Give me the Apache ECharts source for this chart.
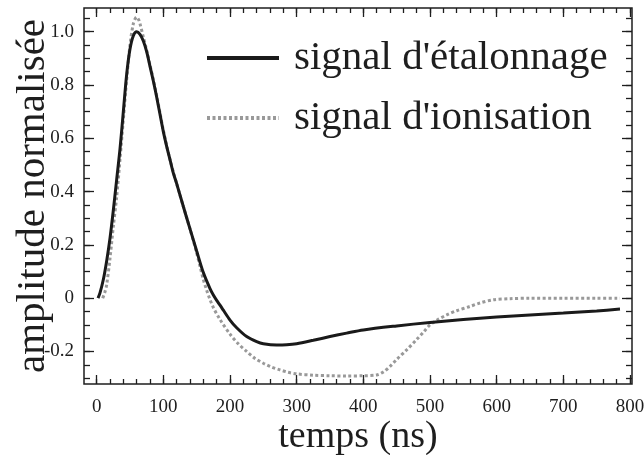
<!DOCTYPE html>
<html>
<head>
<meta charset="utf-8">
<script src="https://cdn.jsdelivr.net/npm/echarts@6/dist/echarts.min.js"></script>
<style>html,body{margin:0;padding:0;background:#fff;}#c{width:644px;height:455px;}</style>
</head>
<body>
<div id="c"></div>
<script>
// signal d'étalonnage (ns, amplitude)
const calibTime = [2, 5, 10, 15, 20, 25, 30, 35, 40, 45, 50, 55, 60, 65, 70, 75, 80, 85, 90, 95, 100, 105, 110, 115, 120, 130, 140, 145, 150, 160, 170, 175, 180, 185, 190, 200, 210, 225, 240, 250, 270, 285, 300, 325, 350, 375, 400, 450, 500, 550, 600, 650, 700, 750, 785];
const calibAmp  = [0, 0.02, 0.07, 0.14, 0.225, 0.33, 0.445, 0.56, 0.7, 0.84, 0.935, 0.985, 1.0, 0.99, 0.965, 0.925, 0.87, 0.815, 0.755, 0.69, 0.625, 0.57, 0.52, 0.469, 0.43, 0.344, 0.26, 0.219, 0.177, 0.096, 0.036, 0.012, -0.008, -0.026, -0.045, -0.082, -0.111, -0.144, -0.163, -0.171, -0.176, -0.175, -0.171, -0.158, -0.144, -0.131, -0.119, -0.104, -0.091, -0.08, -0.071, -0.063, -0.056, -0.048, -0.041];
// signal d'ionisation
const ionTime = [9, 12, 15, 20, 25, 30, 35, 40, 45, 50, 55, 60, 63, 65, 70, 75, 80, 85, 90, 95, 100, 110, 120, 130, 140, 150, 155, 160, 165, 170, 175, 185, 200, 212, 225, 237, 250, 262, 275, 287, 300, 325, 350, 375, 400, 420, 430, 440, 450, 465, 480, 490, 500, 512, 525, 540, 560, 575, 595, 620, 650, 700, 750, 785];
const ionAmp  = [0, 0.02, 0.05, 0.15, 0.27, 0.38, 0.52, 0.67, 0.82, 0.95, 1.03, 1.055, 1.045, 1.03, 0.98, 0.93, 0.875, 0.82, 0.76, 0.695, 0.63, 0.52, 0.43, 0.344, 0.26, 0.17, 0.12, 0.07, 0.03, -0.005, -0.035, -0.08, -0.135, -0.17, -0.2, -0.225, -0.244, -0.258, -0.269, -0.278, -0.284, -0.289, -0.291, -0.292, -0.291, -0.288, -0.277, -0.256, -0.23, -0.194, -0.155, -0.128, -0.1, -0.08, -0.063, -0.047, -0.031, -0.018, -0.006, -0.002, 0, 0, 0, 0];
const seriesNames = ["signal d'étalonnage", "signal d'ionisation"];
const xMajor = [0, 100, 200, 300, 400, 500, 600, 700, 800];
const xMinor = [0, 20, 40, 60, 80, 100, 120, 140, 160, 180, 200, 220, 240, 260, 280, 300, 320, 340, 360, 380, 400, 420, 440, 460, 480, 500, 520, 540, 560, 580, 600, 620, 640, 660, 680, 700, 720, 740, 760, 780, 800];
const yMajor = [-0.2, 0, 0.2, 0.4, 0.6, 0.8, 1.0];
const yMinor = [-0.3, -0.25, -0.2, -0.15, -0.1, -0.05, 0, 0.05, 0.1, 0.15, 0.2, 0.25, 0.3, 0.35, 0.4, 0.45, 0.5, 0.55, 0.6, 0.65, 0.7, 0.75, 0.8, 0.85, 0.9, 0.95, 1.0, 1.05];
const xTitle = 'temps (ns)';
const yTitle = 'amplitude normalisée';

const FONT = "'Liberation Serif', 'DejaVu Serif', serif";
const INK = '#1e1e1e';
const X_MIN = -19, X_MAX = 803, Y_MIN = -0.322, Y_MAX = 1.089;

function zip(a, b) { return a.map((v, i) => [v, b[i]]); }

function xAx(pos, values, len, labels) {
  return {
    type: 'value', position: pos, min: X_MIN, max: X_MAX,
    axisLine: { show: false, onZero: false },
    splitLine: { show: false },
    axisTick: { show: true, inside: true, length: len, customValues: values, lineStyle: { color: INK, width: 1.3 } },
    axisLabel: labels ? { show: true, customValues: xMajor, margin: 14, fontFamily: FONT, fontSize: 19, color: INK } : { show: false }
  };
}
function yAx(pos, values, len, labels) {
  return {
    type: 'value', position: pos, min: Y_MIN, max: Y_MAX,
    axisLine: { show: false, onZero: false },
    splitLine: { show: false },
    axisTick: { show: true, inside: true, length: len, customValues: values, lineStyle: { color: INK, width: 1.3 } },
    axisLabel: labels ? { show: true, customValues: yMajor, margin: 10, fontFamily: FONT, fontSize: 19, color: INK,
      formatter: v => (Math.abs(v) < 1e-9 ? '0' : v.toFixed(1)) } : { show: false }
  };
}

const xAxes = [xAx('bottom', xMajor, 9, true), xAx('bottom', xMinor, 5, false), xAx('top', xMajor, 9, false), xAx('top', xMinor, 5, false)];
Object.assign(xAxes[0], { name: xTitle, nameLocation: 'middle', nameGap: 34, nameMoveOverlap: false, nameTextStyle: { fontFamily: FONT, fontSize: 38, color: INK } });
const yAxes = [yAx('left', yMajor, 10, true), yAx('left', yMinor, 6, false), yAx('right', yMajor, 10, false), yAx('right', yMinor, 6, false)];
Object.assign(yAxes[0], { name: yTitle, nameLocation: 'middle', nameRotate: 90, nameGap: 30, nameMoveOverlap: false, nameTextStyle: { fontFamily: FONT, fontSize: 41, color: INK } });

const chart = echarts.init(document.getElementById('c'), null, { renderer: 'canvas' });
chart.setOption({
  animation: false,
  backgroundColor: '#fff',
  grid: { left: 84, right: 12, top: 8, bottom: 71, containLabel: false, outerBoundsMode: 'none',
    show: true, borderColor: INK, borderWidth: 1.5, backgroundColor: 'transparent' },
  xAxis: xAxes,
  yAxis: yAxes,
  legend: {
    orient: 'vertical', left: 200, top: 31, itemWidth: 72, itemHeight: 14, itemGap: 16,
    itemStyle: { opacity: 0 },
    lineStyle: { width: 4 },
    textStyle: { fontFamily: FONT, fontSize: 41, color: INK, padding: [0, 0, 0, 10], lineHeight: 44 },
    data: seriesNames
  },
  series: [
    { name: seriesNames[0], type: 'line', xAxisIndex: 0, yAxisIndex: 0, data: zip(calibTime, calibAmp), symbol: 'none', smooth: 0.3,
      lineStyle: { color: '#1a1a1a', width: 3 }, itemStyle: { color: '#1a1a1a' }, z: 3 },
    { name: seriesNames[1], type: 'line', xAxisIndex: 0, yAxisIndex: 0, data: zip(ionTime, ionAmp), symbol: 'none', smooth: 0.3,
      lineStyle: { color: '#999', width: 3, type: [3, 2.5] }, itemStyle: { color: '#999' }, z: 2 }
  ]
});
</script>
</body>
</html>
